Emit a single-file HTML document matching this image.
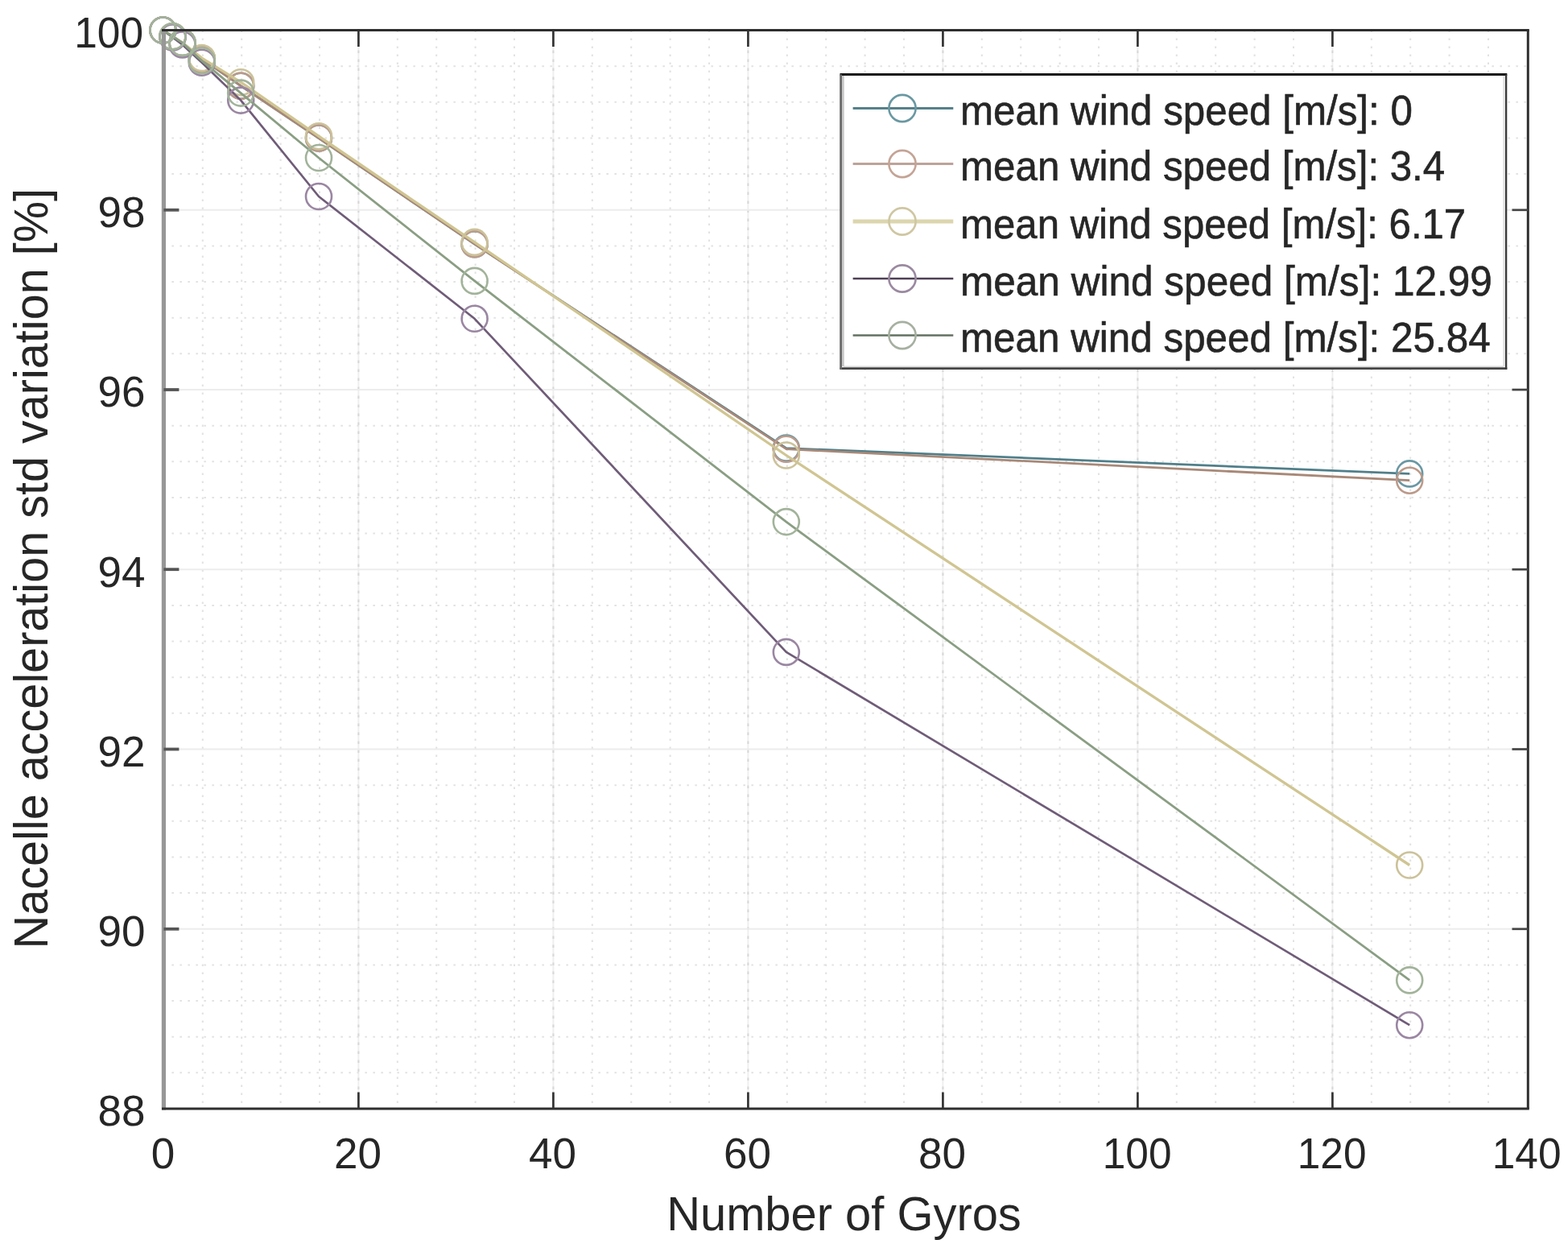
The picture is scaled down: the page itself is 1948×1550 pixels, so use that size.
<!DOCTYPE html>
<html><head><meta charset="utf-8"><title>Nacelle acceleration std variation vs Number of Gyros</title>
<style>
html,body{margin:0;padding:0;background:#fff;overflow:hidden;}
svg{display:block;}
text{font-family:"Liberation Sans",Arial,Helvetica,sans-serif;fill:#262626;}
</style></head><body>
<svg width="1948" height="1550" viewBox="0 0 1948 1550">
<rect x="0" y="0" width="1948" height="1550" fill="#fff"/>
<g id="grid"><line x1="251.8" y1="37.5" x2="251.8" y2="1377.0" stroke="#e2e2e2" stroke-width="2" stroke-dasharray="2.5 7.5"/><line x1="300.2" y1="37.5" x2="300.2" y2="1377.0" stroke="#e2e2e2" stroke-width="2" stroke-dasharray="2.5 7.5"/><line x1="348.6" y1="37.5" x2="348.6" y2="1377.0" stroke="#e2e2e2" stroke-width="2" stroke-dasharray="2.5 7.5"/><line x1="397.0" y1="37.5" x2="397.0" y2="1377.0" stroke="#e2e2e2" stroke-width="2" stroke-dasharray="2.5 7.5"/><line x1="445.4" y1="37.5" x2="445.4" y2="1377.0" stroke="#efefef" stroke-width="2"/><line x1="445.4" y1="40.5" x2="445.4" y2="1377.0" stroke="#d8d8d8" stroke-width="2" stroke-dasharray="3.5 7.5"/><line x1="493.8" y1="37.5" x2="493.8" y2="1377.0" stroke="#e2e2e2" stroke-width="2" stroke-dasharray="2.5 7.5"/><line x1="542.2" y1="37.5" x2="542.2" y2="1377.0" stroke="#e2e2e2" stroke-width="2" stroke-dasharray="2.5 7.5"/><line x1="590.6" y1="37.5" x2="590.6" y2="1377.0" stroke="#e2e2e2" stroke-width="2" stroke-dasharray="2.5 7.5"/><line x1="639.0" y1="37.5" x2="639.0" y2="1377.0" stroke="#e2e2e2" stroke-width="2" stroke-dasharray="2.5 7.5"/><line x1="687.4" y1="37.5" x2="687.4" y2="1377.0" stroke="#efefef" stroke-width="2"/><line x1="687.4" y1="40.5" x2="687.4" y2="1377.0" stroke="#d8d8d8" stroke-width="2" stroke-dasharray="3.5 7.5"/><line x1="735.8" y1="37.5" x2="735.8" y2="1377.0" stroke="#e2e2e2" stroke-width="2" stroke-dasharray="2.5 7.5"/><line x1="784.2" y1="37.5" x2="784.2" y2="1377.0" stroke="#e2e2e2" stroke-width="2" stroke-dasharray="2.5 7.5"/><line x1="832.6" y1="37.5" x2="832.6" y2="1377.0" stroke="#e2e2e2" stroke-width="2" stroke-dasharray="2.5 7.5"/><line x1="881.0" y1="37.5" x2="881.0" y2="1377.0" stroke="#e2e2e2" stroke-width="2" stroke-dasharray="2.5 7.5"/><line x1="929.4" y1="37.5" x2="929.4" y2="1377.0" stroke="#efefef" stroke-width="2"/><line x1="929.4" y1="40.5" x2="929.4" y2="1377.0" stroke="#d8d8d8" stroke-width="2" stroke-dasharray="3.5 7.5"/><line x1="977.8" y1="37.5" x2="977.8" y2="1377.0" stroke="#e2e2e2" stroke-width="2" stroke-dasharray="2.5 7.5"/><line x1="1026.2" y1="37.5" x2="1026.2" y2="1377.0" stroke="#e2e2e2" stroke-width="2" stroke-dasharray="2.5 7.5"/><line x1="1074.6" y1="37.5" x2="1074.6" y2="1377.0" stroke="#e2e2e2" stroke-width="2" stroke-dasharray="2.5 7.5"/><line x1="1123.0" y1="37.5" x2="1123.0" y2="1377.0" stroke="#e2e2e2" stroke-width="2" stroke-dasharray="2.5 7.5"/><line x1="1171.4" y1="37.5" x2="1171.4" y2="1377.0" stroke="#efefef" stroke-width="2"/><line x1="1171.4" y1="40.5" x2="1171.4" y2="1377.0" stroke="#d8d8d8" stroke-width="2" stroke-dasharray="3.5 7.5"/><line x1="1219.8" y1="37.5" x2="1219.8" y2="1377.0" stroke="#e2e2e2" stroke-width="2" stroke-dasharray="2.5 7.5"/><line x1="1268.2" y1="37.5" x2="1268.2" y2="1377.0" stroke="#e2e2e2" stroke-width="2" stroke-dasharray="2.5 7.5"/><line x1="1316.6" y1="37.5" x2="1316.6" y2="1377.0" stroke="#e2e2e2" stroke-width="2" stroke-dasharray="2.5 7.5"/><line x1="1365.0" y1="37.5" x2="1365.0" y2="1377.0" stroke="#e2e2e2" stroke-width="2" stroke-dasharray="2.5 7.5"/><line x1="1413.4" y1="37.5" x2="1413.4" y2="1377.0" stroke="#efefef" stroke-width="2"/><line x1="1413.4" y1="40.5" x2="1413.4" y2="1377.0" stroke="#d8d8d8" stroke-width="2" stroke-dasharray="3.5 7.5"/><line x1="1461.8" y1="37.5" x2="1461.8" y2="1377.0" stroke="#e2e2e2" stroke-width="2" stroke-dasharray="2.5 7.5"/><line x1="1510.2" y1="37.5" x2="1510.2" y2="1377.0" stroke="#e2e2e2" stroke-width="2" stroke-dasharray="2.5 7.5"/><line x1="1558.6" y1="37.5" x2="1558.6" y2="1377.0" stroke="#e2e2e2" stroke-width="2" stroke-dasharray="2.5 7.5"/><line x1="1607.0" y1="37.5" x2="1607.0" y2="1377.0" stroke="#e2e2e2" stroke-width="2" stroke-dasharray="2.5 7.5"/><line x1="1655.4" y1="37.5" x2="1655.4" y2="1377.0" stroke="#efefef" stroke-width="2"/><line x1="1655.4" y1="40.5" x2="1655.4" y2="1377.0" stroke="#d8d8d8" stroke-width="2" stroke-dasharray="3.5 7.5"/><line x1="1703.8" y1="37.5" x2="1703.8" y2="1377.0" stroke="#e2e2e2" stroke-width="2" stroke-dasharray="2.5 7.5"/><line x1="1752.2" y1="37.5" x2="1752.2" y2="1377.0" stroke="#e2e2e2" stroke-width="2" stroke-dasharray="2.5 7.5"/><line x1="1800.6" y1="37.5" x2="1800.6" y2="1377.0" stroke="#e2e2e2" stroke-width="2" stroke-dasharray="2.5 7.5"/><line x1="1849.0" y1="37.5" x2="1849.0" y2="1377.0" stroke="#e2e2e2" stroke-width="2" stroke-dasharray="2.5 7.5"/><line x1="203.4" y1="1332.3" x2="1897.4" y2="1332.3" stroke="#e2e2e2" stroke-width="2" stroke-dasharray="2.5 7.5"/><line x1="203.4" y1="1287.7" x2="1897.4" y2="1287.7" stroke="#e2e2e2" stroke-width="2" stroke-dasharray="2.5 7.5"/><line x1="203.4" y1="1243.0" x2="1897.4" y2="1243.0" stroke="#e2e2e2" stroke-width="2" stroke-dasharray="2.5 7.5"/><line x1="203.4" y1="1198.4" x2="1897.4" y2="1198.4" stroke="#e2e2e2" stroke-width="2" stroke-dasharray="2.5 7.5"/><line x1="203.4" y1="1153.8" x2="1897.4" y2="1153.8" stroke="#ececec" stroke-width="2"/><line x1="203.4" y1="1109.1" x2="1897.4" y2="1109.1" stroke="#e2e2e2" stroke-width="2" stroke-dasharray="2.5 7.5"/><line x1="203.4" y1="1064.5" x2="1897.4" y2="1064.5" stroke="#e2e2e2" stroke-width="2" stroke-dasharray="2.5 7.5"/><line x1="203.4" y1="1019.8" x2="1897.4" y2="1019.8" stroke="#e2e2e2" stroke-width="2" stroke-dasharray="2.5 7.5"/><line x1="203.4" y1="975.2" x2="1897.4" y2="975.2" stroke="#e2e2e2" stroke-width="2" stroke-dasharray="2.5 7.5"/><line x1="203.4" y1="930.5" x2="1897.4" y2="930.5" stroke="#ececec" stroke-width="2"/><line x1="203.4" y1="885.8" x2="1897.4" y2="885.8" stroke="#e2e2e2" stroke-width="2" stroke-dasharray="2.5 7.5"/><line x1="203.4" y1="841.2" x2="1897.4" y2="841.2" stroke="#e2e2e2" stroke-width="2" stroke-dasharray="2.5 7.5"/><line x1="203.4" y1="796.5" x2="1897.4" y2="796.5" stroke="#e2e2e2" stroke-width="2" stroke-dasharray="2.5 7.5"/><line x1="203.4" y1="751.9" x2="1897.4" y2="751.9" stroke="#e2e2e2" stroke-width="2" stroke-dasharray="2.5 7.5"/><line x1="203.4" y1="707.2" x2="1897.4" y2="707.2" stroke="#ececec" stroke-width="2"/><line x1="203.4" y1="662.6" x2="1897.4" y2="662.6" stroke="#e2e2e2" stroke-width="2" stroke-dasharray="2.5 7.5"/><line x1="203.4" y1="618.0" x2="1897.4" y2="618.0" stroke="#e2e2e2" stroke-width="2" stroke-dasharray="2.5 7.5"/><line x1="203.4" y1="573.3" x2="1897.4" y2="573.3" stroke="#e2e2e2" stroke-width="2" stroke-dasharray="2.5 7.5"/><line x1="203.4" y1="528.7" x2="1897.4" y2="528.7" stroke="#e2e2e2" stroke-width="2" stroke-dasharray="2.5 7.5"/><line x1="203.4" y1="484.0" x2="1897.4" y2="484.0" stroke="#ececec" stroke-width="2"/><line x1="203.4" y1="439.3" x2="1897.4" y2="439.3" stroke="#e2e2e2" stroke-width="2" stroke-dasharray="2.5 7.5"/><line x1="203.4" y1="394.7" x2="1897.4" y2="394.7" stroke="#e2e2e2" stroke-width="2" stroke-dasharray="2.5 7.5"/><line x1="203.4" y1="350.0" x2="1897.4" y2="350.0" stroke="#e2e2e2" stroke-width="2" stroke-dasharray="2.5 7.5"/><line x1="203.4" y1="305.4" x2="1897.4" y2="305.4" stroke="#e2e2e2" stroke-width="2" stroke-dasharray="2.5 7.5"/><line x1="203.4" y1="260.8" x2="1897.4" y2="260.8" stroke="#ececec" stroke-width="2"/><line x1="203.4" y1="216.1" x2="1897.4" y2="216.1" stroke="#e2e2e2" stroke-width="2" stroke-dasharray="2.5 7.5"/><line x1="203.4" y1="171.5" x2="1897.4" y2="171.5" stroke="#e2e2e2" stroke-width="2" stroke-dasharray="2.5 7.5"/><line x1="203.4" y1="126.8" x2="1897.4" y2="126.8" stroke="#e2e2e2" stroke-width="2" stroke-dasharray="2.5 7.5"/><line x1="203.4" y1="82.2" x2="1897.4" y2="82.2" stroke="#e2e2e2" stroke-width="2" stroke-dasharray="2.5 7.5"/></g>
<polyline points="202.4,37.5 214.5,45.3 226.6,53.1 250.8,73.2 299.2,106.7 396.0,171.5 589.6,303.2 976.8,556.6 1751.2,588.4" fill="none" stroke="#4f7f8a" stroke-width="2.8" stroke-linejoin="round"/>
<circle cx="202.4" cy="37.5" r="16" fill="none" stroke="#6a98a4" stroke-width="2.6"/>
<circle cx="214.5" cy="45.3" r="16" fill="none" stroke="#6a98a4" stroke-width="2.6"/>
<circle cx="226.6" cy="53.1" r="16" fill="none" stroke="#6a98a4" stroke-width="2.6"/>
<circle cx="250.8" cy="73.2" r="16" fill="none" stroke="#6a98a4" stroke-width="2.6"/>
<circle cx="299.2" cy="106.7" r="16" fill="none" stroke="#6a98a4" stroke-width="2.6"/>
<circle cx="396.0" cy="171.5" r="16" fill="none" stroke="#6a98a4" stroke-width="2.6"/>
<circle cx="589.6" cy="303.2" r="16" fill="none" stroke="#6a98a4" stroke-width="2.6"/>
<circle cx="976.8" cy="556.6" r="16" fill="none" stroke="#6a98a4" stroke-width="2.6"/>
<circle cx="1751.2" cy="588.4" r="16" fill="none" stroke="#6a98a4" stroke-width="2.6"/>
<polyline points="202.4,37.5 214.5,45.3 226.6,53.1 250.8,73.2 299.2,106.7 396.0,171.5 589.6,303.2 976.8,557.7 1751.2,596.7" fill="none" stroke="#a88878" stroke-width="2.8" stroke-linejoin="round"/>
<circle cx="202.4" cy="37.5" r="16" fill="none" stroke="#bc9a8a" stroke-width="2.6"/>
<circle cx="214.5" cy="45.3" r="16" fill="none" stroke="#bc9a8a" stroke-width="2.6"/>
<circle cx="226.6" cy="53.1" r="16" fill="none" stroke="#bc9a8a" stroke-width="2.6"/>
<circle cx="250.8" cy="73.2" r="16" fill="none" stroke="#bc9a8a" stroke-width="2.6"/>
<circle cx="299.2" cy="106.7" r="16" fill="none" stroke="#bc9a8a" stroke-width="2.6"/>
<circle cx="396.0" cy="171.5" r="16" fill="none" stroke="#bc9a8a" stroke-width="2.6"/>
<circle cx="589.6" cy="303.2" r="16" fill="none" stroke="#bc9a8a" stroke-width="2.6"/>
<circle cx="976.8" cy="557.7" r="16" fill="none" stroke="#bc9a8a" stroke-width="2.6"/>
<circle cx="1751.2" cy="596.7" r="16" fill="none" stroke="#bc9a8a" stroke-width="2.6"/>
<polyline points="202.4,37.5 214.5,45.3 226.6,53.1 250.8,72.1 299.2,102.2 396.0,169.2 589.6,300.9 976.8,565.5 1751.2,1074.5" fill="none" stroke="#d0c592" stroke-width="3.3" stroke-linejoin="round"/>
<circle cx="202.4" cy="37.5" r="16" fill="none" stroke="#ccc29a" stroke-width="2.6"/>
<circle cx="214.5" cy="45.3" r="16" fill="none" stroke="#ccc29a" stroke-width="2.6"/>
<circle cx="226.6" cy="53.1" r="16" fill="none" stroke="#ccc29a" stroke-width="2.6"/>
<circle cx="250.8" cy="72.1" r="16" fill="none" stroke="#ccc29a" stroke-width="2.6"/>
<circle cx="299.2" cy="102.2" r="16" fill="none" stroke="#ccc29a" stroke-width="2.6"/>
<circle cx="396.0" cy="169.2" r="16" fill="none" stroke="#ccc29a" stroke-width="2.6"/>
<circle cx="589.6" cy="300.9" r="16" fill="none" stroke="#ccc29a" stroke-width="2.6"/>
<circle cx="976.8" cy="565.5" r="16" fill="none" stroke="#ccc29a" stroke-width="2.6"/>
<circle cx="1751.2" cy="1074.5" r="16" fill="none" stroke="#ccc29a" stroke-width="2.6"/>
<polyline points="202.4,37.5 214.5,46.4 226.6,55.4 250.8,77.7 299.2,124.6 396.0,244.0 589.6,395.8 976.8,809.9 1751.2,1273.2" fill="none" stroke="#6f5c78" stroke-width="2.7" stroke-linejoin="round"/>
<circle cx="202.4" cy="37.5" r="16" fill="none" stroke="#9a86a2" stroke-width="2.6"/>
<circle cx="214.5" cy="46.4" r="16" fill="none" stroke="#9a86a2" stroke-width="2.6"/>
<circle cx="226.6" cy="55.4" r="16" fill="none" stroke="#9a86a2" stroke-width="2.6"/>
<circle cx="250.8" cy="77.7" r="16" fill="none" stroke="#9a86a2" stroke-width="2.6"/>
<circle cx="299.2" cy="124.6" r="16" fill="none" stroke="#9a86a2" stroke-width="2.6"/>
<circle cx="396.0" cy="244.0" r="16" fill="none" stroke="#9a86a2" stroke-width="2.6"/>
<circle cx="589.6" cy="395.8" r="16" fill="none" stroke="#9a86a2" stroke-width="2.6"/>
<circle cx="976.8" cy="809.9" r="16" fill="none" stroke="#9a86a2" stroke-width="2.6"/>
<circle cx="1751.2" cy="1273.2" r="16" fill="none" stroke="#9a86a2" stroke-width="2.6"/>
<polyline points="202.4,37.5 214.5,45.3 226.6,53.1 250.8,75.5 299.2,115.6 396.0,196.0 589.6,348.9 976.8,648.1 1751.2,1217.4" fill="none" stroke="#8a9e83" stroke-width="2.8" stroke-linejoin="round"/>
<circle cx="202.4" cy="37.5" r="16" fill="none" stroke="#a2b39a" stroke-width="2.6"/>
<circle cx="214.5" cy="45.3" r="16" fill="none" stroke="#a2b39a" stroke-width="2.6"/>
<circle cx="226.6" cy="53.1" r="16" fill="none" stroke="#a2b39a" stroke-width="2.6"/>
<circle cx="250.8" cy="75.5" r="16" fill="none" stroke="#a2b39a" stroke-width="2.6"/>
<circle cx="299.2" cy="115.6" r="16" fill="none" stroke="#a2b39a" stroke-width="2.6"/>
<circle cx="396.0" cy="196.0" r="16" fill="none" stroke="#a2b39a" stroke-width="2.6"/>
<circle cx="589.6" cy="348.9" r="16" fill="none" stroke="#a2b39a" stroke-width="2.6"/>
<circle cx="976.8" cy="648.1" r="16" fill="none" stroke="#a2b39a" stroke-width="2.6"/>
<circle cx="1751.2" cy="1217.4" r="16" fill="none" stroke="#a2b39a" stroke-width="2.6"/>
<rect x="200.8" y="36.0" width="5.2" height="1342.5" fill="#979797"/>
<line x1="201" y1="37.5" x2="1899.8" y2="37.5" stroke="#2e2e2e" stroke-width="3"/>
<line x1="201" y1="1377.0" x2="1899.8" y2="1377.0" stroke="#2e2e2e" stroke-width="3"/>
<line x1="1898.3" y1="37.5" x2="1898.3" y2="1377.0" stroke="#2e2e2e" stroke-width="3"/>
<g id="ticks"><line x1="445.4" y1="1377.0" x2="445.4" y2="1356.5" stroke="#333" stroke-width="2.7"/><line x1="445.4" y1="37.5" x2="445.4" y2="58.0" stroke="#333" stroke-width="2.7"/><line x1="687.4" y1="1377.0" x2="687.4" y2="1356.5" stroke="#333" stroke-width="2.7"/><line x1="687.4" y1="37.5" x2="687.4" y2="58.0" stroke="#333" stroke-width="2.7"/><line x1="929.4" y1="1377.0" x2="929.4" y2="1356.5" stroke="#333" stroke-width="2.7"/><line x1="929.4" y1="37.5" x2="929.4" y2="58.0" stroke="#333" stroke-width="2.7"/><line x1="1171.4" y1="1377.0" x2="1171.4" y2="1356.5" stroke="#333" stroke-width="2.7"/><line x1="1171.4" y1="37.5" x2="1171.4" y2="58.0" stroke="#333" stroke-width="2.7"/><line x1="1413.4" y1="1377.0" x2="1413.4" y2="1356.5" stroke="#333" stroke-width="2.7"/><line x1="1413.4" y1="37.5" x2="1413.4" y2="58.0" stroke="#333" stroke-width="2.7"/><line x1="1655.4" y1="1377.0" x2="1655.4" y2="1356.5" stroke="#333" stroke-width="2.7"/><line x1="1655.4" y1="37.5" x2="1655.4" y2="58.0" stroke="#333" stroke-width="2.7"/><line x1="203.4" y1="1153.8" x2="222.4" y2="1153.8" stroke="#555" stroke-width="3.8"/><line x1="1898.3" y1="1153.8" x2="1878.5" y2="1153.8" stroke="#444" stroke-width="2.7"/><line x1="203.4" y1="930.5" x2="222.4" y2="930.5" stroke="#555" stroke-width="3.8"/><line x1="1898.3" y1="930.5" x2="1878.5" y2="930.5" stroke="#444" stroke-width="2.7"/><line x1="203.4" y1="707.2" x2="222.4" y2="707.2" stroke="#555" stroke-width="3.8"/><line x1="1898.3" y1="707.2" x2="1878.5" y2="707.2" stroke="#444" stroke-width="2.7"/><line x1="203.4" y1="484.0" x2="222.4" y2="484.0" stroke="#555" stroke-width="3.8"/><line x1="1898.3" y1="484.0" x2="1878.5" y2="484.0" stroke="#444" stroke-width="2.7"/><line x1="203.4" y1="260.8" x2="222.4" y2="260.8" stroke="#555" stroke-width="3.8"/><line x1="1898.3" y1="260.8" x2="1878.5" y2="260.8" stroke="#444" stroke-width="2.7"/></g>
<g id="ticklabels"><text x="202.6" y="1450.8" font-size="53" text-anchor="middle">0</text><text x="444.6" y="1450.8" font-size="53" text-anchor="middle">20</text><text x="686.6" y="1450.8" font-size="53" text-anchor="middle">40</text><text x="928.6" y="1450.8" font-size="53" text-anchor="middle">60</text><text x="1170.6" y="1450.8" font-size="53" text-anchor="middle">80</text><text x="1412.6" y="1450.8" font-size="53" text-anchor="middle" textLength="85.8" lengthAdjust="spacingAndGlyphs">100</text><text x="1654.6" y="1450.8" font-size="53" text-anchor="middle" textLength="85.8" lengthAdjust="spacingAndGlyphs">120</text><text x="1896.6" y="1450.8" font-size="53" text-anchor="middle" textLength="85.8" lengthAdjust="spacingAndGlyphs">140</text><text x="180.5" y="1398.3" font-size="53" text-anchor="end">88</text><text x="180.5" y="1175.0" font-size="53" text-anchor="end">90</text><text x="180.5" y="951.8" font-size="53" text-anchor="end">92</text><text x="180.5" y="728.5" font-size="53" text-anchor="end">94</text><text x="180.5" y="505.3" font-size="53" text-anchor="end">96</text><text x="180.5" y="282.1" font-size="53" text-anchor="end">98</text><text x="178.0" y="58.8" font-size="53" text-anchor="end" textLength="85.8" lengthAdjust="spacingAndGlyphs">100</text></g>
<text x="828.2" y="1527.6" font-size="58.5" textLength="440.6" lengthAdjust="spacingAndGlyphs">Number of Gyros</text>
<text transform="translate(58.6 1178.4) rotate(-90)" x="0" y="0" font-size="58.5" textLength="944.3" lengthAdjust="spacingAndGlyphs">Nacelle acceleration std variation [%]</text>
<g id="legend"><rect x="1045" y="92.5" width="825.5" height="364.8" fill="#fff"/><line x1="1043.5" y1="92.5" x2="1872.3" y2="92.5" stroke="#151515" stroke-width="3"/><line x1="1043.5" y1="457.6" x2="1872.3" y2="457.6" stroke="#444" stroke-width="2.6"/><line x1="1048" y1="455.2" x2="1868" y2="455.2" stroke="#dadada" stroke-width="1.6"/><line x1="1044.6" y1="92.5" x2="1044.6" y2="458.7" stroke="#6a6a6a" stroke-width="2.8"/><line x1="1047.4" y1="94" x2="1047.4" y2="455" stroke="#c6c6c6" stroke-width="2.6"/><line x1="1871.1" y1="92.5" x2="1871.1" y2="458.7" stroke="#3a3a3a" stroke-width="2.4"/><line x1="1868.5" y1="94" x2="1868.5" y2="455" stroke="#e0e0e0" stroke-width="2.4"/><line x1="1059.6" y1="134.5" x2="1184.3" y2="134.5" stroke="#55808a" stroke-width="3"/><circle cx="1121" cy="134.5" r="16.6" fill="none" stroke="#6a98a2" stroke-width="2.6"/><line x1="1059.6" y1="203.5" x2="1184.3" y2="203.5" stroke="#bca39a" stroke-width="3"/><circle cx="1121" cy="203.5" r="16.6" fill="none" stroke="#c4a496" stroke-width="2.6"/><line x1="1059.6" y1="275.0" x2="1184.3" y2="275.0" stroke="#dcd6ae" stroke-width="5"/><circle cx="1121" cy="275.0" r="16.6" fill="none" stroke="#cfc7a2" stroke-width="2.6"/><line x1="1059.6" y1="346.0" x2="1184.3" y2="346.0" stroke="#4d3f55" stroke-width="2.4"/><circle cx="1121" cy="346.0" r="16.6" fill="none" stroke="#9a8aa0" stroke-width="2.6"/><line x1="1059.6" y1="416.5" x2="1184.3" y2="416.5" stroke="#637060" stroke-width="2.4"/><circle cx="1121" cy="416.5" r="16.6" fill="none" stroke="#a6b0a0" stroke-width="2.6"/><text x="1193.0" y="155.2" font-size="52" stroke="#262626" stroke-width="0.6" textLength="561.9" lengthAdjust="spacingAndGlyphs">mean wind speed [m/s]: 0</text><text x="1193.1" y="224.2" font-size="52" stroke="#262626" stroke-width="0.6" textLength="602.1" lengthAdjust="spacingAndGlyphs">mean wind speed [m/s]: 3.4</text><text x="1193.1" y="295.7" font-size="52" stroke="#262626" stroke-width="0.6" textLength="628.1" lengthAdjust="spacingAndGlyphs">mean wind speed [m/s]: 6.17</text><text x="1193.0" y="366.7" font-size="52" stroke="#262626" stroke-width="0.6" textLength="660.9" lengthAdjust="spacingAndGlyphs">mean wind speed [m/s]: 12.99</text><text x="1193.0" y="437.2" font-size="52" stroke="#262626" stroke-width="0.6" textLength="658.6" lengthAdjust="spacingAndGlyphs">mean wind speed [m/s]: 25.84</text></g>
</svg></body></html>
